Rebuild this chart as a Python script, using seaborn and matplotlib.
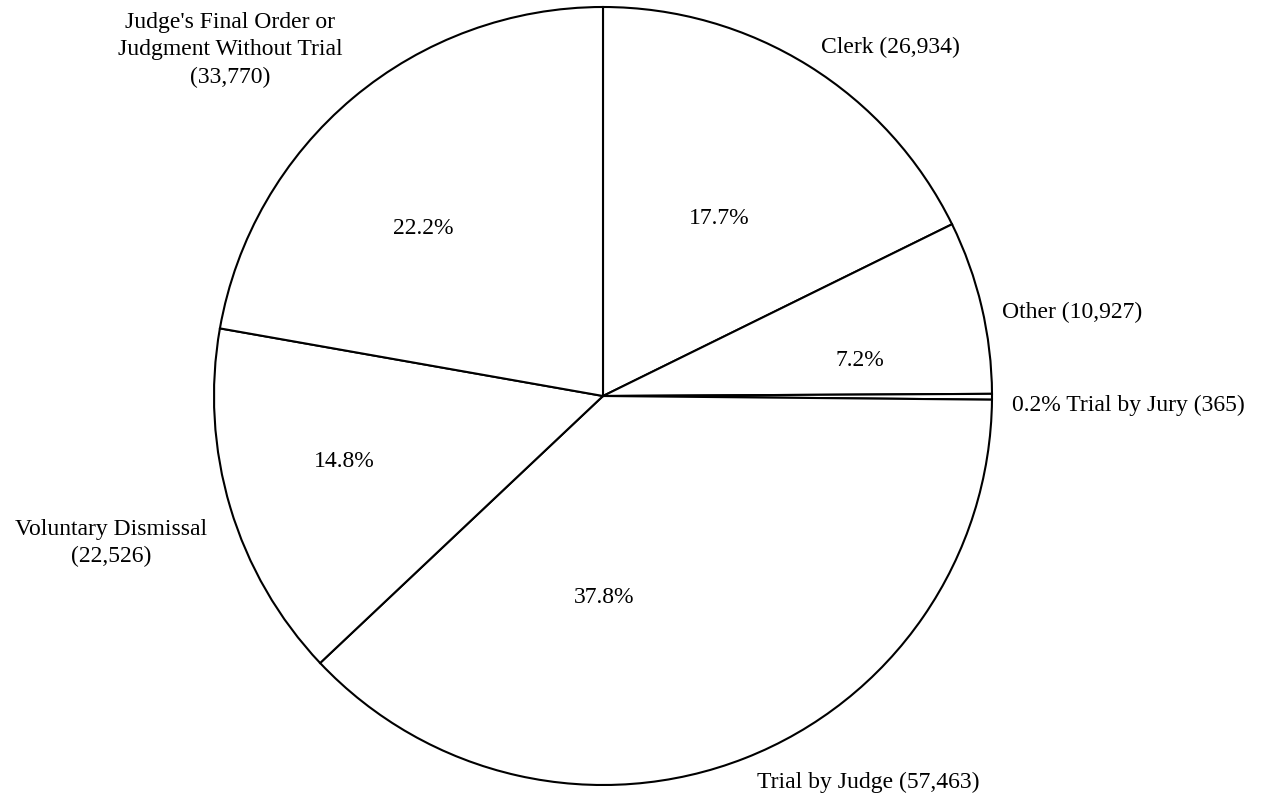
import matplotlib
matplotlib.use("Agg")
import matplotlib.pyplot as plt
import seaborn as sns

# ---- data ----
categories = ["Clerk", "Other", "Trial by Jury", "Trial by Judge",
              "Voluntary Dismissal", "Judge's Final Order or\nJudgment Without Trial"]
counts = [26934, 10927, 365, 57463, 22526, 33770]

sns.set_theme(style="white")
plt.rcParams["font.family"] = ["Liberation Serif", "DejaVu Serif"]
plt.rcParams["text.color"] = "black"

FS = 17
fig = plt.figure(figsize=(12.64, 8.03), dpi=100)
ax = fig.add_axes([0, 0, 1, 1])

wedges, _ = ax.pie(counts, startangle=90, counterclock=False, radius=1.0,
                   colors=["white"] * len(counts),
                   wedgeprops=dict(edgecolor="black", linewidth=1.5))

# pixel-based layout (center 603,397; radius 389 px)
R = 389.0
cx, cy = 603.0, 397.0
ax.set_xlim(-cx / R, (1264 - cx) / R)
ax.set_ylim(-(803 - cy) / R, cy / R)
ax.set_aspect("auto")
ax.axis("off")

def P(px, py):
    return (px - cx) / R, (cy - py) / R

total = sum(counts)
pcts = [f"{c / total * 100:.1f}%" for c in counts]
fmt = [f"{c:,}" for c in counts]

# percentage label layout (pixel positions)
pct_pos = {0: (719, 218), 1: (860, 361), 3: (604, 598), 4: (344, 462), 5: (423, 228)}
for i, (px, py) in pct_pos.items():
    x, y = P(px, py)
    ax.text(x, y, pcts[i], ha="center", va="center", fontsize=FS, color="black")

# category labels
x, y = P(821, 47)
ax.text(x, y, f"{categories[0]} ({fmt[0]})", ha="left", va="center", fontsize=FS, color="black")
x, y = P(1002, 312)
ax.text(x, y, f"{categories[1]} ({fmt[1]})", ha="left", va="center", fontsize=FS, color="black")
x, y = P(1012, 405)
ax.text(x, y, f"{pcts[2]} {categories[2]} ({fmt[2]})", ha="left", va="center",
        fontsize=FS, color="black")
x, y = P(757, 782)
ax.text(x, y, f"{categories[3]} ({fmt[3]})", ha="left", va="center", fontsize=FS, color="black")
x, y = P(111, 543)
ax.text(x, y, f"{categories[4]}\n({fmt[4]})", ha="center", va="center",
        multialignment="center", fontsize=FS, linespacing=1.4, color="black")
x, y = P(230, 50)
ax.text(x, y, f"{categories[5]}\n({fmt[5]})", ha="center", va="center",
        multialignment="center", fontsize=FS, linespacing=1.4, color="black")

fig.savefig("out.png", dpi=100, facecolor="white")
